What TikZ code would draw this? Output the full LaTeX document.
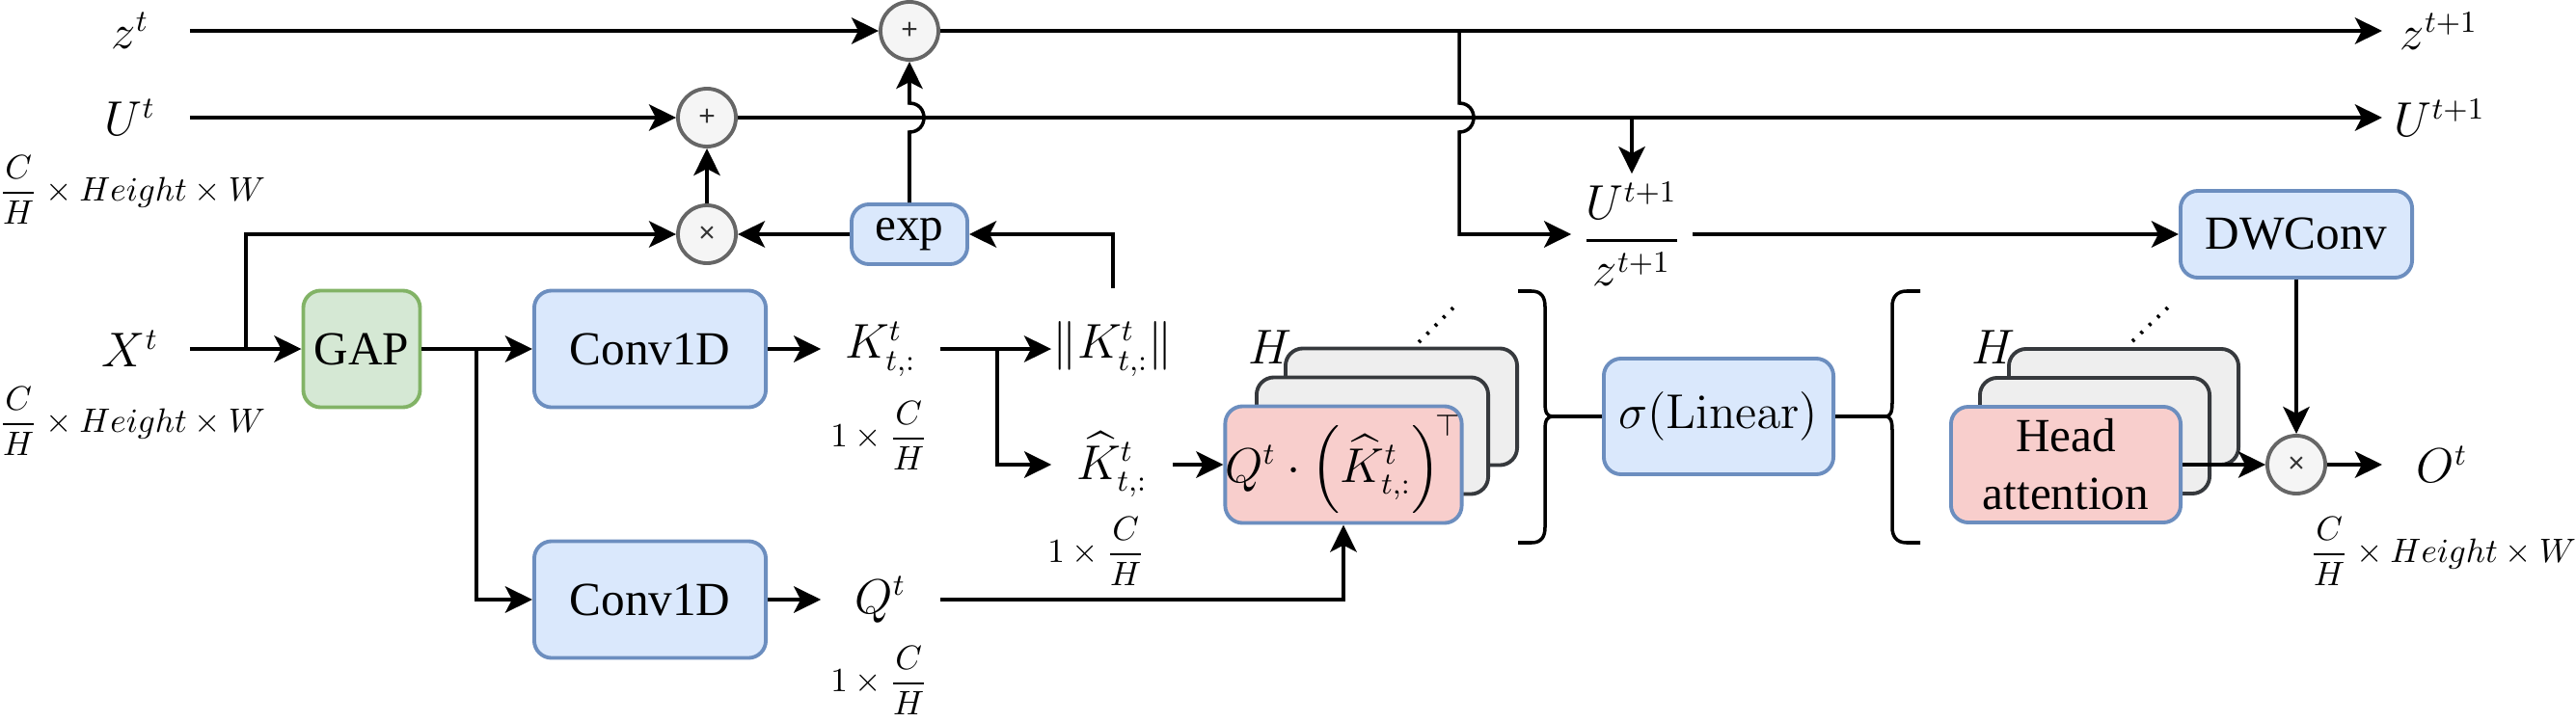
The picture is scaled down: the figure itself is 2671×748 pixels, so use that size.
\documentclass[tikz,border=0pt]{standalone}
\usepackage[no-math]{fontspec}
\setmainfont{Liberation Serif}
\newfontfamily\opfont{Liberation Sans}
\usepackage{amsmath}
\usetikzlibrary{arrows.meta,calc}
\definecolor{bfill}{HTML}{DAE8FC}
\definecolor{bdraw}{HTML}{6C8EBF}
\definecolor{gfill}{HTML}{D5E8D4}
\definecolor{gdraw}{HTML}{82B366}
\definecolor{rfill}{HTML}{F8CECC}
\definecolor{kfill}{HTML}{EEEEEE}
\definecolor{kdraw}{HTML}{36393D}
\definecolor{cfill}{HTML}{F5F5F5}
\definecolor{cdraw}{HTML}{666666}
\definecolor{optext}{HTML}{333333}
\begin{document}
\begin{tikzpicture}[x=0.01cm,y=-0.01cm,line width=1pt,
  arr/.style={-{Stealth[length=8pt,width=7.8pt,inset=2pt]}},
  blk/.style={draw,rounded corners=0.18cm,line width=1.1pt,inner sep=0,align=center,
    font=\fontsize{14}{17}\selectfont},
  bluebox/.style={blk,fill=bfill,draw=bdraw},
  greenbox/.style={blk,fill=gfill,draw=gdraw},
  redbox/.style={blk,fill=rfill,draw=bdraw},
  graybox/.style={blk,fill=kfill,draw=kdraw},
  wide/.style={minimum width=2.4cm,minimum height=1.21cm},
  lbl/.style={inner sep=0,font=\fontsize{13.5}{16}\selectfont},
  dimlbl/.style={inner sep=0,font=\fontsize{9.8}{12}\selectfont},
  op/.style={circle,draw=cdraw,fill=cfill,line width=1.1pt,minimum size=0.6cm,inner sep=0,
    text=optext,font=\opfont\fontsize{8.5}{9}\selectfont},
  brace/.style={line width=1pt},
  dots/.style={line width=1.1pt,dash pattern=on 0.8pt off 2.6pt}
]
\useasboundingbox (0,0) rectangle (2671,748);

% left labels
\node[lbl,minimum width=1.2cm] (zt) at (135,32) {$z^t$};
\node[lbl,minimum width=1.2cm] (Ut) at (135,122) {$U^t$};
\node[lbl,minimum width=1.2cm] (Xt) at (135,362) {$X^t$};
\node[dimlbl] (dimU) at (137,197) {$\dfrac{C}{H}\times Height\times W$};
\node[dimlbl] (dimX) at (137,437) {$\dfrac{C}{H}\times Height\times W$};

% operators
\node[op] (pT) at (943,32) {+};
\node[op] (pM) at (733,122) {+};
\node[op] (tL) at (733,243) {×};
\node[op] (tR) at (2381,482) {×};

% boxes
\node[greenbox,minimum width=1.21cm,minimum height=1.21cm] (gap) at (375,362) {GAP};
\node[bluebox,wide] (c1) at (674,362) {Conv1D};
\node[bluebox,wide] (c2) at (674,622) {Conv1D};
\node[bluebox,minimum width=1.2cm,minimum height=0.62cm] (exp) at (943,243) {exp};
\node[lbl,minimum width=1.2cm] (K) at (913,362) {$K^t_{t,:}$};
\node[lbl,minimum width=1.2cm] (Q) at (913,622) {$Q^t$};
\node[dimlbl] (dimK) at (912,452) {$1\times\dfrac{C}{H}$};
\node[dimlbl] (dimQ) at (912,706) {$1\times\dfrac{C}{H}$};
\node[lbl,minimum width=1.24cm,minimum height=1.22cm] (Kn) at (1154,362) {$\lVert K^t_{t,:}\rVert$};
\node[lbl,minimum width=1.22cm] (Kh) at (1153,482) {$\widehat{K}^t_{t,:}$};
\node[dimlbl] (dimKh) at (1137,572) {$1\times\dfrac{C}{H}$};

% attention stack
\node[graybox,wide] (s1c) at (1453,422) {};
\node[graybox,wide] (s1b) at (1423,452) {};
\node[redbox,wide] (att) at (1393,482) {\fontsize{13.5}{16}\selectfont$Q^t\cdot\left(\widehat{K}^t_{t,:}\right)^{\!\top}$};
\node[lbl] (H1) at (1317,360) {$H$};
\draw[dots] (1471,355) -- (1508,318);

% braces and sigma
\coordinate (bR) at (1610,432);
\coordinate (bL) at (1955,432);
\draw[brace] (1574,302) -- (1588,302) .. controls (1598,302) and (1602,308) .. (1602,318) -- (1602,418) .. controls (1602,428) and (1604,432) .. (bR) .. controls (1604,432) and (1602,436) .. (1602,446) -- (1602,547) .. controls (1602,557) and (1598,563) .. (1588,563) -- (1574,563);
\draw[brace] (1991,302) -- (1977,302) .. controls (1967,302) and (1962,308) .. (1962,318) -- (1962,418) .. controls (1962,428) and (1960,432) .. (bL) .. controls (1960,432) and (1962,436) .. (1962,446) -- (1962,547) .. controls (1962,557) and (1967,563) .. (1977,563) -- (1991,563);
\node[bluebox,minimum width=2.38cm,minimum height=1.2cm] (sig) at (1782,432) {\fontsize{13.5}{16}\selectfont$\sigma(\mathrm{Linear})$};

% head stack
\node[graybox,minimum width=2.38cm,minimum height=1.2cm] (s2c) at (2202,422) {};
\node[graybox,minimum width=2.38cm,minimum height=1.2cm] (s2b) at (2172,452) {};
\node[redbox,minimum width=2.38cm,minimum height=1.2cm] (head) at (2142,482) {Head\\attention};
\node[lbl] (H2) at (2067,360) {$H$};
\draw[dots] (2211,354) -- (2250,317);

% right part
\node[bluebox,minimum width=2.4cm,minimum height=0.9cm] (dw) at (2381,243) {DWConv};
\node[lbl,minimum width=1.22cm,minimum height=1.22cm] (fr) at (1692,243) {$\dfrac{U^{t+1}}{z^{t+1}}$};
\node[lbl,anchor=west,inner xsep=0.17cm] (zo) at (2470,32) {$z^{t+1}$};
\node[lbl,anchor=west,inner xsep=0.11cm] (Uo) at (2470,122) {$U^{t+1}$};
\node[lbl,anchor=west,inner xsep=0.34cm] (Ot) at (2470,482) {$O^t$};
\node[dimlbl] (dimO) at (2533,572) {$\dfrac{C}{H}\times Height\times W$};

% connectors
\coordinate (zs) at (1513,32);
\coordinate (us) at (1692,122);
\coordinate (xs) at (255,362);
\coordinate (gs) at (494,362);
\coordinate (ks) at (1034,362);
\draw[arr] (zt) -- (pT);
\draw[arr] (pT) -- (zo);
\draw[arr] (Ut) -- (pM);
\draw[arr] (pM) -- (Uo);
\draw[arr] (zs) -- (1513,107) .. controls (1533,107) and (1533,137) .. (1513,137) |- (fr.west);
\draw[arr] (us) -- (fr.north);
\draw[arr] (fr) -- (dw);
\draw[arr] (dw) -- (tR);
\draw[arr] (Xt) -- (gap);
\draw[arr] (xs) |- (tL);
\draw[arr] (exp) -- (tL);
\draw[arr] (tL) -- (pM);
\draw[arr] (exp.north) -- (943,137) .. controls (963,137) and (963,107) .. (943,107) -- (pT.south);
\draw[arr] (gap) -- (c1);
\draw[arr] (gs) |- (c2);
\draw[arr] (c1) -- (K);
\draw[arr] (c2) -- (Q);
\draw[arr] (K) -- (Kn);
\draw[arr] (ks) |- (Kh);
\draw[arr] (Kn.north) |- (exp);
\draw[arr] (Kh) -- (att);
\draw[arr] (Q) -| (att);
\draw (bR) -- (sig);
\draw (sig) -- (bL);
\draw[arr] (head) -- (tR);
\draw[arr] (tR) -- (Ot);
\end{tikzpicture}
\end{document}
